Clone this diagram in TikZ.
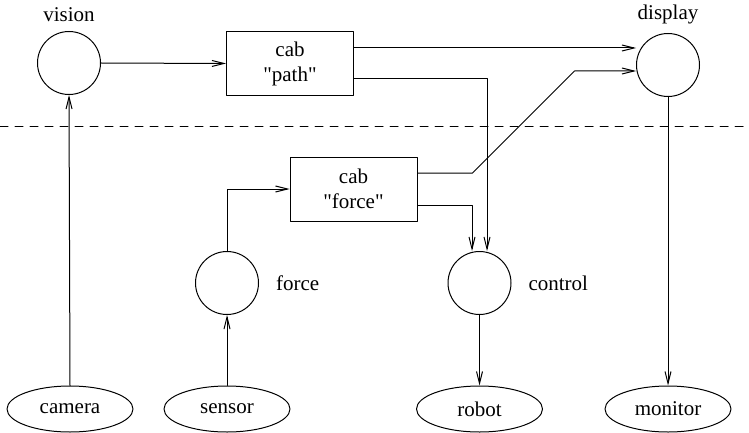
\documentclass[tikz,border=0pt]{standalone}
\usepackage{fontspec}
\setmainfont{Liberation Serif}
\usetikzlibrary{positioning,shapes.geometric,arrows.meta}
\begin{document}
\begin{tikzpicture}[x=0.5pt,y=-0.5pt,line cap=round,line join=round,
    >={Straight Barb[length=6pt,width=3pt]},
    every node/.style={font=\fontsize{10.5pt}{12.5pt}\selectfont},
    proc/.style={draw,circle,line width=0.5pt,minimum size=31.5pt,inner sep=0pt},
    dev/.style={draw,ellipse,line width=0.5pt,minimum width=63pt,minimum height=23pt,inner sep=0pt},
    cabbox/.style={draw,rectangle,line width=0.5pt,minimum width=63.5pt,minimum height=32pt,align=center,inner sep=0pt},
    flow/.style={line width=0.5pt,->}]
  \useasboundingbox (0,0) rectangle (749,433);
  % processes
  \node[proc] (vision) at (69,63) {};
  \node[proc] (display) at (668,65) {};
  \node[proc] (force) at (227,283) {};
  \node[proc] (control) at (479.5,283) {};
  \node[above=1pt of vision] (visionlbl) {vision};
  \node[above=1pt of display] (displaylbl) {display};
  \node[right=5pt of force] (forcelbl) {force};
  \node[right=5pt of control] (controllbl) {control};
  % cab boxes
  \node[cabbox] (path) at (290,63.5) {cab\\\textquotedbl path\textquotedbl};
  \node[cabbox] (fbox) at (353.5,189) {cab\\\textquotedbl force\textquotedbl};
  % devices
  \node[dev] (camera) at (70,409) {camera};
  \node[dev] (sensor) at (227,409) {sensor};
  \node[dev] (robot) at (479.5,409) {robot};
  \node[dev] (monitor) at (668,409) {monitor};
  % dashed separator
  \draw[line width=0.5pt,dash pattern=on 4pt off 3.5pt] (0,127) -- (745,127);
  % connections
  \draw[flow] (camera.north) -- (vision.south);
  \draw[flow] (vision.east) -- (path.west);
  \draw[flow] ([yshift=7.75pt]path.east) -- ([yshift=7.75pt]path.east -| display.west);
  \draw[flow] ([yshift=-7.75pt]path.east) -| ([xshift=3.75pt]control.north);
  \draw[flow] ([yshift=8pt]fbox.east) -- ++(27.5pt,0) -- ++(51pt,51pt) -- ([yshift=-3pt]display.west);
  \draw[flow] ([yshift=-8pt]fbox.east) -| ([xshift=-3.75pt]control.north);
  \draw[flow] (sensor.north) -- (force.south);
  \draw[flow] (force.north) |- (fbox.west);
  \draw[flow] (control.south) -- (robot.north);
  \draw[flow] (display.south) -- (monitor.north);
\end{tikzpicture}
\end{document}
